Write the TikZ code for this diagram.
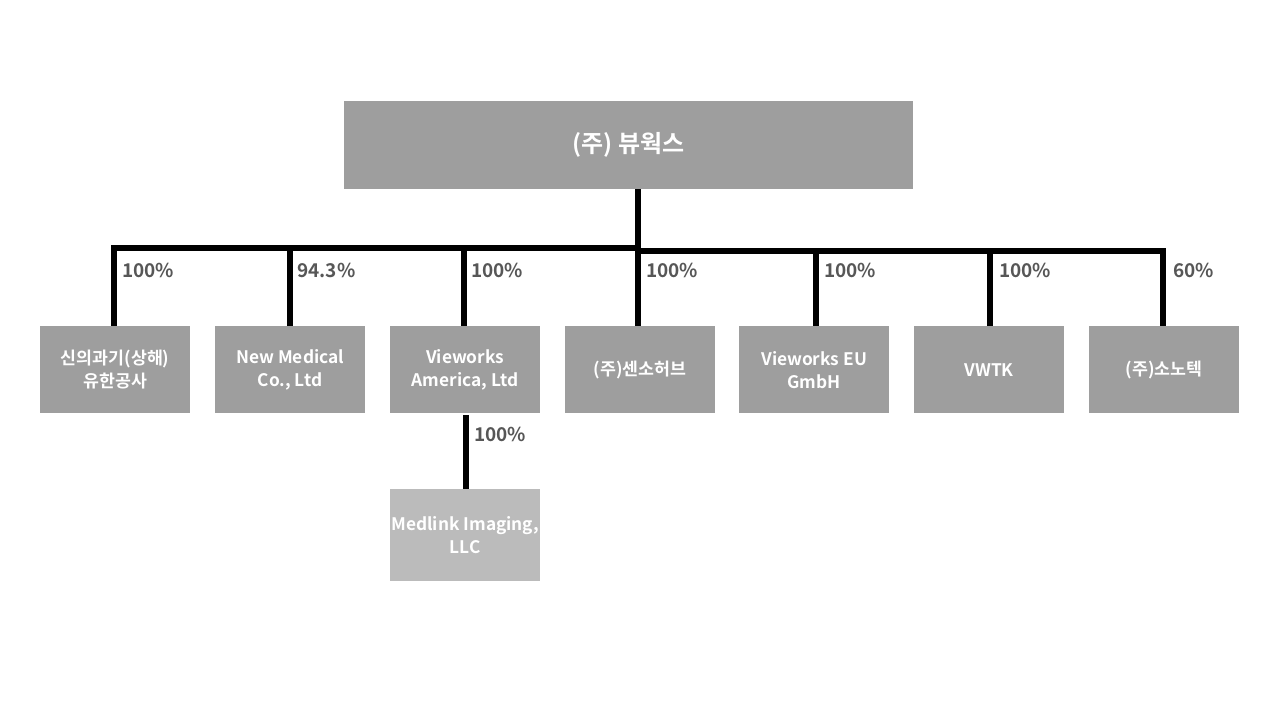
\documentclass[tikz,border=0pt]{standalone}
\usepackage{fontspec}
\setmainfont{Noto Sans CJK KR}[BoldFont={* Bold}]
\newfontfamily\kr{Noto Sans CJK KR Bold}
\begin{document}
\begin{tikzpicture}[x=1pt,y=-1pt,
  box/.style={fill=boxgray,draw=none,minimum width=150pt,minimum height=87pt,inner sep=0pt,
    text=white,align=center,font=\kr\fontsize{17.3}{23}\selectfont,anchor=north west},
  topbox/.style={box,minimum width=569pt,minimum height=88pt,font=\kr\fontsize{24}{28}\selectfont},
  subbox/.style={box,fill=lightgray2,minimum height=92pt},
  pct/.style={text=pctgray,font=\kr\fontsize{19}{20}\selectfont,anchor=west,inner sep=0pt},
  conn/.style={line width=6pt,black}]
\definecolor{boxgray}{HTML}{9E9E9E}
\definecolor{lightgray2}{HTML}{BBBBBB}
\definecolor{pctgray}{HTML}{575757}
\useasboundingbox (0,0) rectangle (1280,720);
\fill[white] (0,0) rectangle (1280,720);
\node[topbox] (top) at (344,101) {(주) 뷰웍스};
\node[box] (b1) at (40,326) {신의과기(상해)\\유한공사};
\node[box] (b2) at (215,326) {New Medical\\Co., Ltd};
\node[box] (b3) at (390,326) {Vieworks\\America, Ltd};
\node[box] (b4) at (565,326) {(주)센소허브};
\node[box] (b5) at (739,326) {Vieworks EU\\GmbH};
\node[box] (b6) at (914,326) {VWTK};
\node[box] (b7) at (1089,326) {(주)소노텍};
\node[subbox] (m) at (390,489) {Medlink Imaging,\\LLC};
\coordinate (L) at (111,248);
\coordinate (R) at (1166,251);
\draw[conn] (638,189) -- (638,252);
\draw[conn] (L) -- (641,248);
\draw[conn] (635,251) -- (R);
\draw[conn] (114,245) -- (114,326);
\draw[conn] (290,245) -- (290,326);
\draw[conn] (464,245) -- (464,326);
\draw[conn] (638,245) -- (638,326);
\draw[conn] (816,248) -- (816,326);
\draw[conn] (990,248) -- (990,326);
\draw[conn] (1163,248) -- (1163,326);
\draw[conn] (466,415) -- (466,489);
\node[pct] (p1) at (122,270) {100\%};
\node[pct] (p2) at (297,270) {94.3\%};
\node[pct] (p3) at (471,270) {100\%};
\node[pct] (p4) at (646,270) {100\%};
\node[pct] (p5) at (824,270) {100\%};
\node[pct] (p6) at (999,270) {100\%};
\node[pct] (p7) at (1173,270) {60\%};
\node[pct] (p8) at (474,434) {100\%};
\end{tikzpicture}
\end{document}
